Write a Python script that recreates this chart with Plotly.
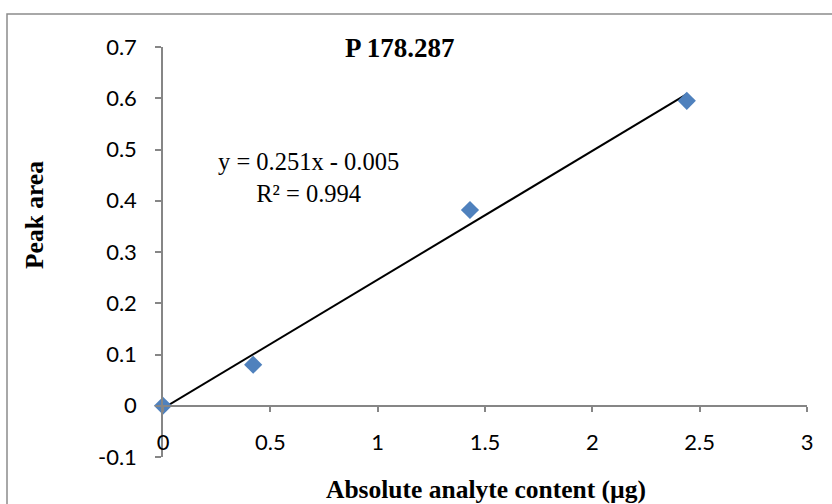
import numpy as np
import plotly.graph_objects as go

# Data
x_content = [0.0, 0.42, 1.43, 2.44]
y_area = [0.0, 0.08, 0.382, 0.595]
x_tickvals = [0, 0.5, 1, 1.5, 2, 2.5, 3]
x_ticktext = ["0", "0.5", "1", "1.5", "2", "2.5", "3"]
y_tickvals = [-0.1, 0, 0.1, 0.2, 0.3, 0.4, 0.5, 0.6, 0.7]
y_ticktext = ["-0.1", "0", "0.1", "0.2", "0.3", "0.4", "0.5", "0.6", "0.7"]
title_text = "P 178.287"
x_title = "Absolute analyte content (µg)"
y_title = "Peak area"

# Linear trendline fitted to the data
slope, intercept = np.polyfit(x_content, y_area, 1)
r2 = np.corrcoef(x_content, y_area)[0, 1] ** 2
x_fit = np.array([min(x_content), max(x_content)])
y_fit = slope * x_fit + intercept
sign = "-" if intercept < 0 else "+"
eq_text = f"y = {slope:.3f}x {sign} {abs(intercept):.3f}<br>R² = {r2:.3f}"

W, H = 832, 504
L, R, T, B = 163, 25, 47, 47
pw, ph = W - L - R, H - T - B

def px(xp):
    return (xp - L) / pw

def py(yp):
    return (H - B - yp) / ph

AXC = "#868686"
TICKFONT = dict(family="Lato, 'Open Sans', sans-serif", size=22, color="#000000")
SERIF = "'Liberation Serif', 'Times New Roman', serif"

fig = go.Figure()
fig.add_trace(go.Scatter(
    x=x_fit, y=y_fit, mode="lines",
    line=dict(color="#000000", width=2), showlegend=False, cliponaxis=False,
    hoverinfo="skip",
))
fig.add_trace(go.Scatter(
    x=x_content, y=y_area, mode="markers",
    marker=dict(symbol="diamond", size=14, color="#4F81BD", line=dict(width=0)),
    showlegend=False, cliponaxis=False,
))

fig.update_layout(
    width=W, height=H,
    margin=dict(l=L, r=R, t=T, b=B),
    paper_bgcolor="white", plot_bgcolor="white",
    xaxis=dict(
        range=[0, 3], domain=[0, 1], anchor="free", position=0.125,
        showline=True, linecolor=AXC, linewidth=1.5,
        ticks="outside", ticklen=5, tickcolor=AXC, tickwidth=1.5,
        tickvals=x_tickvals, ticktext=x_ticktext,
        showgrid=False, zeroline=False, tickfont=TICKFONT,
        ticklabelstandoff=12,
    ),
    yaxis=dict(
        range=[-0.1, 0.7], domain=[0, 1], anchor="x",
        showline=True, linecolor=AXC, linewidth=1.5,
        ticks="outside", ticklen=6, tickcolor=AXC, tickwidth=1.5,
        tickvals=y_tickvals, ticktext=y_ticktext,
        showgrid=False, zeroline=False, tickfont=TICKFONT,
        ticklabelstandoff=14,
    ),
    shapes=[dict(
        type="rect", xref="paper", yref="paper",
        x0=px(7), x1=px(900), y0=py(560), y1=py(14),
        line=dict(color="#8c8c8c", width=1.5), fillcolor="rgba(0,0,0,0)",
        layer="below",
    )],
    annotations=[
        dict(text=f"<b>{title_text}</b>", xref="paper", yref="paper",
             x=px(400), y=py(48), xanchor="center", yanchor="middle",
             showarrow=False, font=dict(family=SERIF, size=27, color="#000")),
        dict(text=eq_text, xref="paper", yref="paper",
             x=px(308), y=py(178), xanchor="center", yanchor="middle",
             align="center", showarrow=False,
             font=dict(family=SERIF, size=24.5, color="#000")),
        dict(text=f"<b>{y_title}</b>", xref="paper", yref="paper",
             x=px(34), y=py(215), xanchor="center", yanchor="middle",
             textangle=-90, showarrow=False,
             font=dict(family=SERIF, size=25.5, color="#000")),
        dict(text=f"<b>{x_title}</b>", xref="paper", yref="paper",
             x=px(486), y=py(489), xanchor="center", yanchor="middle",
             showarrow=False, font=dict(family=SERIF, size=25.5, color="#000")),
    ],
)

fig.write_html("out.html")
